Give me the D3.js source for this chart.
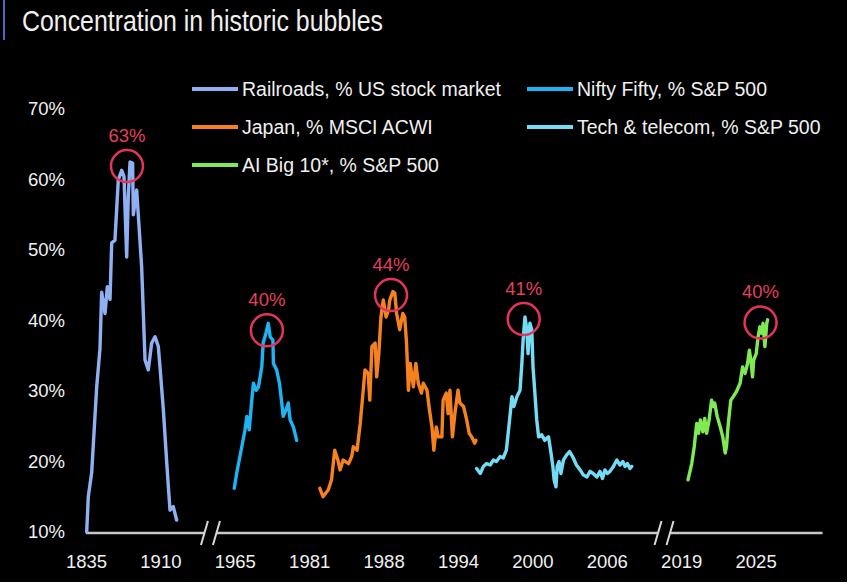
<!DOCTYPE html>
<meta charset="utf-8">
<style>
body {
  margin: 0;
  background: #fff;
}
svg text {
  font-family: "Liberation Sans", Arial, sans-serif;
  fill: #f0f0f0;
}
.title {
  font-size: 30px;
}
.axis text {
  font-size: 18.5px;
}
.legend text {
  font-size: 19.5px;
}
.peak text {
  font-size: 18.5px;
  fill: #e2405f;
}
</style>
<body>
<script src="https://cdn.jsdelivr.net/npm/d3@7/dist/d3.min.js"></script>
<script>

var width = 850,
    height = 586;

// tick years on the broken x axis
var tickYears = [1835, 1910, 1965, 1981, 1988, 1994, 2000, 2006, 2019, 2025];
var breakYears = [1947, 2016];
var yTicks = [10, 20, 30, 40, 50, 60, 70];

// [year, % share]
var railroads = [
  [1835.7, 10], [1837.3, 15], [1840.7, 18.4], [1845.8, 30.6], [1849.1, 36],
  [1850.8, 44], [1854.2, 41], [1856.5, 44.8], [1859.2, 43], [1860.9, 51],
  [1864.2, 51.4], [1866, 56], [1867.6, 60], [1871, 61.3], [1873.3, 60.4],
  [1876, 49], [1877.6, 57.5], [1879.4, 62.5], [1882, 62.3], [1882.7, 55],
  [1886.1, 58.5], [1887.7, 55], [1891.1, 47.6], [1894.5, 34.4], [1897.8, 33],
  [1901.2, 36.8], [1904.6, 37.7], [1907.9, 36.3], [1909.6, 33.4], [1912.2, 27.3],
  [1914.7, 19.8], [1915.9, 16.4], [1917.1, 13.1], [1919.5, 13.6], [1922, 11.7]
];

var niftyFifty = [
  [1964.6, 16.2], [1965.4, 18.3], [1966.5, 22.1], [1967.2, 24.5], [1967.6, 26.4],
  [1968.1, 24.5], [1968.6, 28.3], [1969.0, 31.1], [1969.6, 30.1], [1970.1, 30.6],
  [1970.8, 33.4], [1971.1, 36.8], [1971.7, 38.2], [1972.2, 39.6], [1972.6, 37.7],
  [1973.2, 37.2], [1973.3, 33.9], [1974.0, 33], [1974.6, 31.1], [1975.1, 28.3],
  [1975.4, 26.4], [1976.0, 27.3], [1976.5, 28.3], [1976.9, 25.9], [1977.6, 24.9],
  [1978.3, 23]
];

var japan = [
  [1982.0, 16.2], [1982.3, 15], [1982.8, 16], [1983.1, 17.4], [1983.4, 21.6],
  [1983.7, 20.2], [1983.9, 18.8], [1984.2, 20.2], [1984.7, 19.7], [1985.0, 20.7],
  [1985.15, 22.1], [1985.5, 21.6], [1985.8, 25.4], [1986.0, 28.7], [1986.25, 33],
  [1986.55, 32.5], [1986.7, 28.7], [1986.9, 36.3], [1987.2, 36.8], [1987.35, 32],
  [1987.55, 35.3], [1987.75, 40.5], [1987.97, 42.9], [1988.2, 40.5], [1988.4, 41.5],
  [1988.5, 42.9], [1988.75, 44.1], [1988.9, 43.9], [1989.05, 41], [1989.3, 38.7],
  [1989.55, 41], [1989.7, 40.5], [1989.85, 36.8], [1990.0, 30.1], [1990.15, 33.9],
  [1990.4, 30.6], [1990.6, 33.9], [1990.8, 31.1], [1991.05, 29.7], [1991.2, 31.1],
  [1991.5, 30.1], [1991.7, 27.3], [1991.9, 24.9], [1992.05, 21.6], [1992.25, 24.9],
  [1992.4, 23.5], [1992.7, 23.5], [1992.8, 28.7], [1993.05, 29.7], [1993.2, 26.8],
  [1993.35, 30.1], [1993.55, 23.5], [1993.75, 26.8], [1994.0, 30.1], [1994.15, 28.3],
  [1994.45, 27.8], [1994.7, 25.9], [1994.9, 24], [1995.1, 23.5], [1995.35, 22.6],
  [1995.45, 23]
];

var techTelecom = [
  [1995.5, 19], [1995.8, 18.3], [1996.05, 19.3], [1996.3, 19.7], [1996.6, 19.5],
  [1996.85, 20.2], [1997.1, 20], [1997.4, 20.7], [1997.65, 20.5], [1997.9, 21.6],
  [1998.1, 24.9], [1998.35, 29.2], [1998.5, 27.8], [1998.75, 29.2], [1999.0, 30.1],
  [1999.15, 33.9], [1999.25, 37.2], [1999.4, 40.5], [1999.55, 38.7], [1999.65, 35.3],
  [1999.8, 39.6], [1999.95, 38.7], [2000.05, 33.4], [2000.2, 29.7], [2000.35, 25.9],
  [2000.5, 23.5], [2000.75, 23.8], [2001.0, 23], [2001.3, 23.5], [2001.5, 21.2],
  [2001.65, 19.3], [2001.75, 17.4], [2001.9, 16.4], [2002.0, 19.3], [2002.15, 20],
  [2002.3, 18.3], [2002.5, 20.2], [2002.75, 20.9], [2003.0, 21.4], [2003.3, 20.5],
  [2003.55, 19.5], [2003.85, 18.8], [2004.1, 18.1], [2004.4, 17.8], [2004.65, 18.6],
  [2004.9, 18.3], [2005.2, 17.8], [2005.45, 18.6], [2005.65, 17.6], [2005.85, 18.8],
  [2006.1, 18.3], [2006.55, 18.6], [2007.15, 19.3], [2007.75, 20.2], [2008.3, 19.5],
  [2008.8, 20], [2009.2, 19.3], [2009.6, 19.7], [2010.05, 19], [2010.35, 19.3]
];

var aiBig10 = [
  [2019.55, 17.4], [2019.85, 19.7], [2020.05, 22.1], [2020.25, 25.4], [2020.4, 24],
  [2020.55, 25.9], [2020.75, 24.2], [2020.9, 26.1], [2021.05, 24], [2021.25, 25.9],
  [2021.45, 28.7], [2021.6, 27.8], [2021.7, 28.3], [2021.9, 26.4], [2022.15, 24.9],
  [2022.35, 23.5], [2022.55, 21.2], [2022.65, 22.1], [2022.8, 25.4], [2023.0, 28.7],
  [2023.2, 29.2], [2023.45, 29.9], [2023.75, 31.1], [2023.95, 33.4], [2024.15, 32.5],
  [2024.35, 33.9], [2024.5, 35.8], [2024.65, 33.9], [2024.75, 32], [2024.85, 34.4],
  [2025.05, 35.3], [2025.2, 37.7], [2025.35, 39.1], [2025.5, 38.2], [2025.6, 39.6],
  [2025.75, 36.3], [2025.9, 39.6], [2025.97, 40.1]
];

var seriesNames = ["Railroads, % US stock market", "Nifty Fifty, % S&P 500",
  "Japan, % MSCI ACWI", "Tech & telecom, % S&P 500", "AI Big 10*, % S&P 500"];
var seriesData = [railroads, niftyFifty, japan, techTelecom, aiBig10];

// circled peaks
var peakLabels = ["63%", "40%", "44%", "41%", "40%"];
var peakYears = [1876.3, 1971.9, 1988.6, 1999.3, 2025.4];
var peakValues = [61.9, 38.6, 43.6, 40.2, 39.7];

var colors = ["#8fb1f4", "#1eb3f2", "#f5821f", "#74dcf5", "#80ea55"];

var x0 = 86, step = 74.4;

var x = d3.scaleLinear()
    .domain(tickYears)
    .range(tickYears.map(function(d, i) { return x0 + i * step; }));

var y = d3.scaleLinear()
    .domain([10, 70])
    .range([532, 109]);

var svg = d3.select("body").append("svg")
    .attr("width", width)
    .attr("height", height);

svg.append("rect")
    .attr("width", 847)
    .attr("height", 582)
    .attr("fill", "#000");

svg.append("line")
    .attr("x1", 4).attr("x2", 4)
    .attr("y1", 0).attr("y2", 40)
    .attr("stroke", "#3f6fc4")
    .attr("stroke-width", 2);

// condensed look: squeeze the regular face horizontally
svg.append("text")
    .attr("class", "title")
    .attr("transform", "translate(22,31) scale(0.83,1)")
    .text("Concentration in historic bubbles");

// y axis labels
svg.append("g")
    .attr("class", "axis")
    .attr("transform", "translate(65,0)")
    .call(d3.axisLeft(y).tickValues(yTicks).tickSize(0).tickPadding(0)
      .tickFormat(function(d) { return d + "%"; }))
    .call(function(g) { g.select(".domain").remove(); })
    .selectAll("text").attr("fill", "#f0f0f0").style("font-family", null);

// x axis labels
var xAxisY = y(10) + 1;
svg.append("g")
    .attr("class", "axis")
    .attr("transform", "translate(0," + xAxisY + ")")
    .call(d3.axisBottom(x).tickValues(tickYears).tickSize(0).tickPadding(22)
      .tickFormat(d3.format("d")))
    .call(function(g) { g.select(".domain").remove(); })
    .selectAll("text").attr("fill", "#f0f0f0").style("font-family", null);

// broken axis line
var axisEnd = 2030.4;
var gap = 6;
var segs = [];
var start = x(tickYears[0]);
breakYears.forEach(function(b) {
  segs.push([start, x(b) - gap]);
  start = x(b) + gap;
});
segs.push([start, x(axisEnd)]);

svg.append("g").selectAll("line")
    .data(segs)
  .enter().append("line")
    .attr("x1", function(d) { return d[0]; })
    .attr("x2", function(d) { return d[1]; })
    .attr("y1", xAxisY)
    .attr("y2", xAxisY)
    .attr("stroke", "#c8c8c8")
    .attr("stroke-width", 2.5);

var slashes = [];
breakYears.forEach(function(b) {
  slashes.push(x(b) - gap);
  slashes.push(x(b) + gap);
});
svg.append("g").selectAll("line")
    .data(slashes)
  .enter().append("line")
    .attr("x1", function(d) { return d - 3.5; })
    .attr("x2", function(d) { return d + 3.5; })
    .attr("y1", xAxisY + 12)
    .attr("y2", xAxisY - 12)
    .attr("stroke", "#d8d8d8")
    .attr("stroke-width", 2);

// series lines
var line = d3.line()
    .x(function(d) { return x(d[0]); })
    .y(function(d) { return y(d[1]); });

svg.append("g").selectAll("path")
    .data(seriesData)
  .enter().append("path")
    .attr("d", line)
    .attr("fill", "none")
    .attr("stroke", function(d, i) { return colors[i]; })
    .attr("stroke-width", 3.4)
    .attr("stroke-linejoin", "round")
    .attr("stroke-linecap", "round");

// peak circles and labels
var peaks = svg.append("g").attr("class", "peak").selectAll("g")
    .data(peakLabels)
  .enter().append("g")
    .attr("transform", function(d, i) {
      return "translate(" + x(peakYears[i]) + "," + y(peakValues[i]) + ")";
    });

peaks.append("circle")
    .attr("r", 16)
    .attr("fill", "none")
    .attr("stroke", "#e2345c")
    .attr("stroke-width", 2.5);

peaks.append("text")
    .attr("y", -31)
    .attr("dy", "0.35em")
    .attr("text-anchor", "middle")
    .text(function(d) { return d; });

// legend
var legendCols = [192, 527],
    legendRows = [89, 127, 165];

var legend = svg.append("g").attr("class", "legend").selectAll("g")
    .data(seriesNames)
  .enter().append("g")
    .attr("transform", function(d, i) {
      return "translate(" + legendCols[i % 2] + "," + legendRows[Math.floor(i / 2)] + ")";
    });

legend.append("line")
    .attr("x1", 0).attr("x2", 46)
    .attr("stroke", function(d, i) { return colors[i]; })
    .attr("stroke-width", 4);

legend.append("text")
    .attr("x", 50)
    .attr("dy", "0.35em")
    .text(function(d) { return d; });

</script>
